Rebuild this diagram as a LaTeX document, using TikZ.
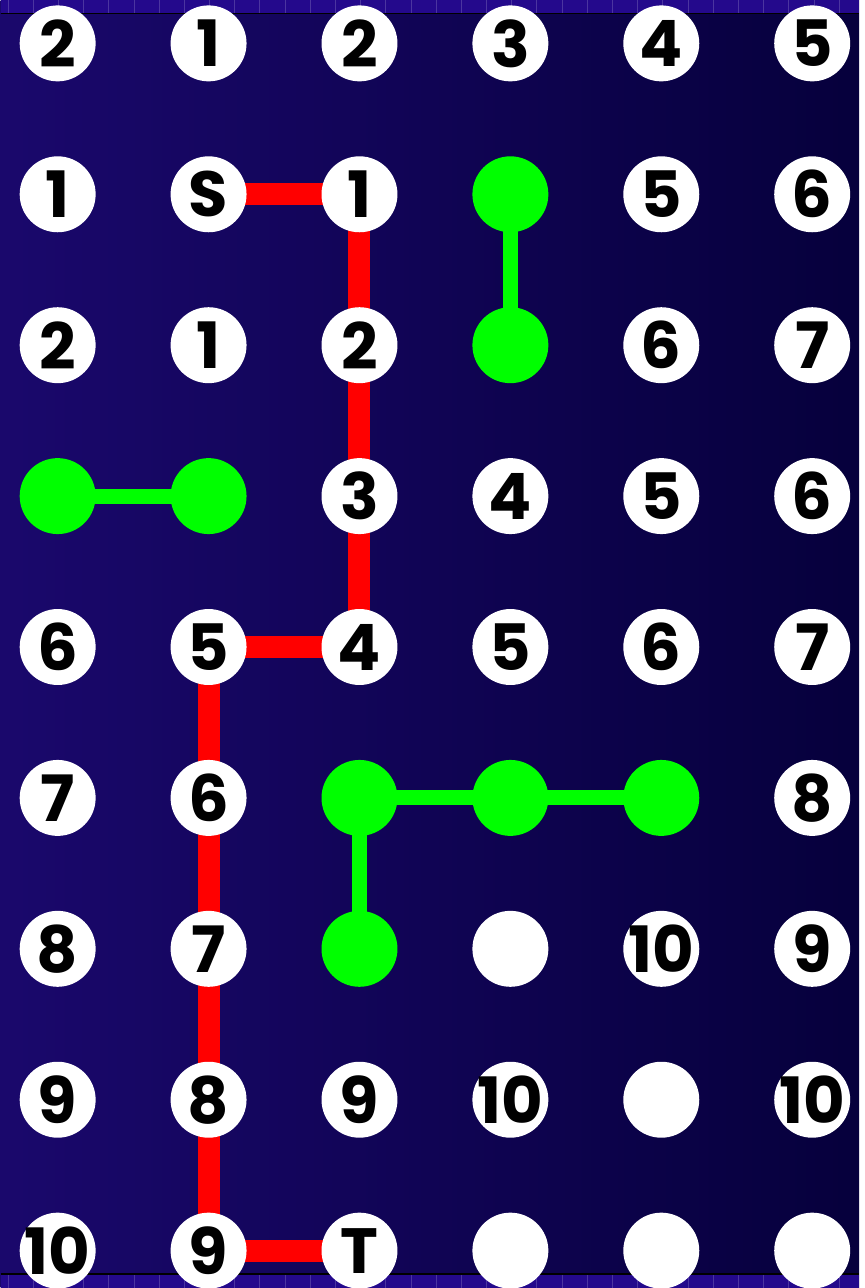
\documentclass[tikz,border=0pt]{standalone}
\usepackage{fontspec}
\newfontfamily\numfont{Poppins}
\definecolor{bgleft}{RGB}{26,8,108}
\definecolor{bgright}{RGB}{6,0,60}
\definecolor{stripe}{RGB}{36,9,140}
\definecolor{pathred}{RGB}{255,0,0}
\definecolor{pathgreen}{RGB}{0,255,0}
\pgfdeclarelayer{bg}
\pgfdeclarelayer{lines}
\pgfsetlayers{bg,lines,main}
\tikzset{
  dot/.style={circle, fill=white, minimum size=76pt, inner sep=0pt, outer sep=0pt},
  num/.style={dot, label={[font=\numfont\bfseries\fontsize{64}{64}\selectfont, inner sep=0pt, text=black]center:#1}},
  gdot/.style={circle, fill=pathgreen, minimum size=76pt, inner sep=0pt, outer sep=0pt},
  redline/.style={draw=pathred, line width=22pt},
  greenline/.style={draw=pathgreen, line width=15pt},
}
\begin{document}
\begin{tikzpicture}[x=1pt,y=-1pt]
\begin{pgfonlayer}{bg}
  \shade[left color=bgleft, right color=bgright] (0,0) rectangle (859,1288);
  \fill[stripe] (0,0) rectangle (859,13);
  \fill[stripe] (0,1275) rectangle (859,1288);
  \foreach \i in {0,...,34} {
    \draw[white, opacity=0.18, line width=0.8pt] ({7.3+25.2*\i},0) -- ({7.3+25.2*\i},13);
    \draw[white, opacity=0.18, line width=0.8pt] ({7.3+25.2*\i},1275) -- ({7.3+25.2*\i},1288);
  }
  \draw[black, line width=1.4pt] (0,13.3) -- (859,13.3);
  \draw[black, line width=1.4pt] (0,1274.5) -- (859,1274.5);
\end{pgfonlayer}
\useasboundingbox (0,0) rectangle (859,1288);
% row 0
\node[num=2] (r0c0) at (57,43) {};
\node[num=1] (r0c1) at (208,43) {};
\node[num=2] (r0c2) at (359,43) {};
\node[num=3] (r0c3) at (510,43) {};
\node[num=4] (r0c4) at (661,43) {};
\node[num=5] (r0c5) at (812,43) {};
% row 1
\node[num=1] (r1c0) at (57,194) {};
\node[num=S] (r1c1) at (208,194) {};
\node[num=1] (r1c2) at (359,194) {};
\node[gdot] (r1c3) at (510,194) {};
\node[num=5] (r1c4) at (661,194) {};
\node[num=6] (r1c5) at (812,194) {};
% row 2
\node[num=2] (r2c0) at (57,345) {};
\node[num=1] (r2c1) at (208,345) {};
\node[num=2] (r2c2) at (359,345) {};
\node[gdot] (r2c3) at (510,345) {};
\node[num=6] (r2c4) at (661,345) {};
\node[num=7] (r2c5) at (812,345) {};
% row 3
\node[gdot] (r3c0) at (57,496) {};
\node[gdot] (r3c1) at (208,496) {};
\node[num=3] (r3c2) at (359,496) {};
\node[num=4] (r3c3) at (510,496) {};
\node[num=5] (r3c4) at (661,496) {};
\node[num=6] (r3c5) at (812,496) {};
% row 4
\node[num=6] (r4c0) at (57,647) {};
\node[num=5] (r4c1) at (208,647) {};
\node[num=4] (r4c2) at (359,647) {};
\node[num=5] (r4c3) at (510,647) {};
\node[num=6] (r4c4) at (661,647) {};
\node[num=7] (r4c5) at (812,647) {};
% row 5
\node[num=7] (r5c0) at (57,798) {};
\node[num=6] (r5c1) at (208,798) {};
\node[gdot] (r5c2) at (359,798) {};
\node[gdot] (r5c3) at (510,798) {};
\node[gdot] (r5c4) at (661,798) {};
\node[num=8] (r5c5) at (812,798) {};
% row 6
\node[num=8] (r6c0) at (57,949) {};
\node[num=7] (r6c1) at (208,949) {};
\node[gdot] (r6c2) at (359,949) {};
\node[dot] (r6c3) at (510,949) {};
\node[num=10] (r6c4) at (661,949) {};
\node[num=9] (r6c5) at (812,949) {};
% row 7
\node[num=9] (r7c0) at (57,1100) {};
\node[num=8] (r7c1) at (208,1100) {};
\node[num=9] (r7c2) at (359,1100) {};
\node[num=10] (r7c3) at (510,1100) {};
\node[dot] (r7c4) at (661,1100) {};
\node[num=10] (r7c5) at (812,1100) {};
% row 8
\node[num=10] (r8c0) at (57,1251) {};
\node[num=9] (r8c1) at (208,1251) {};
\node[num=T] (r8c2) at (359,1251) {};
\node[dot] (r8c3) at (510,1251) {};
\node[dot] (r8c4) at (661,1251) {};
\node[dot] (r8c5) at (812,1251) {};
\begin{pgfonlayer}{lines}
  \draw[redline] (r1c1.center) -- (r1c2.center) -- (r2c2.center) -- (r3c2.center) -- (r4c2.center) -- (r4c1.center) -- (r5c1.center) -- (r6c1.center) -- (r7c1.center) -- (r8c1.center) -- (r8c2.center);
  \draw[greenline] (r1c3.center) -- (r2c3.center);
  \draw[greenline] (r3c0.center) -- (r3c1.center);
  \draw[greenline] (r5c2.center) -- (r5c3.center) -- (r5c4.center);
  \draw[greenline] (r5c2.center) -- (r6c2.center);
\end{pgfonlayer}
\end{tikzpicture}
\end{document}
